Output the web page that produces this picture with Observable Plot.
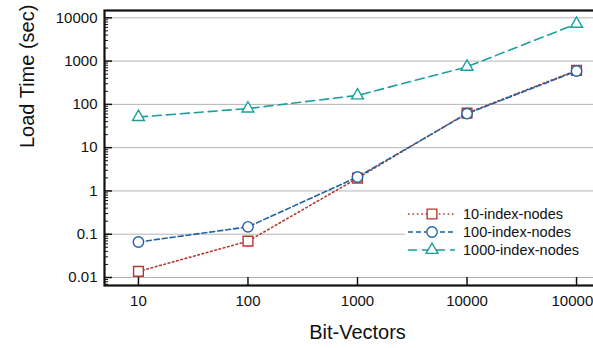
<!DOCTYPE html>
<html>
<head>
<meta charset="utf-8">
<script src="https://cdn.jsdelivr.net/npm/d3@7"></script>
<script src="https://cdn.jsdelivr.net/npm/@observablehq/plot@0.6"></script>
<style>
  html, body { margin: 0; padding: 0; background: #fff; overflow: hidden; width: 593px; height: 348px; }
  #wrap { position: relative; width: 593px; height: 348px; overflow: hidden; font-family: "Liberation Sans", Arial, Helvetica, sans-serif; }
  #wrap svg.plot { max-width: none !important; }
  #legend { position: absolute; left: 405px; top: 203px; width: 188px; height: 57px; background: #fff; }
  #legend .row { position: absolute; left: 0; height: 18px; display: flex; align-items: center; }
  #legend .row span { font-size: 14.5px; color: #111; margin-left: 5px; line-height: 18px; }
</style>
</head>
<body>
<div id="wrap"></div>
<script>
const bitVectors = [10, 100, 1000, 10000, 100000];
const seriesNames = ["10-index-nodes", "100-index-nodes", "1000-index-nodes"];
const load10 = [0.0138, 0.069, 1.97, 63, 610];
const load100 = [0.066, 0.148, 2.1, 61, 590];
const load1000 = [51, 80, 161, 738, 7250];
const yTicks = [0.01, 0.1, 1, 10, 100, 1000, 10000];
const yTickLabels = ["0.01", "0.1", "1", "10", "100", "1000", "10000"];
const xTickLabels = ["10", "100", "1000", "10000", "100000"];
const xLabel = "Bit-Vectors";
const yLabel = "Load Time (sec)";

const colors = ["#b23a2f", "#1f62a6", "#1a9f9c"];
const symbols = ["square", "circle", "triangle"];
const dashes = ["1.6,2.8", "5,3", "9,5"];
const radii = [5.5, 5.2, 4.4];

const seriesValues = [load10, load100, load1000];
const data = [];
seriesNames.forEach((s, i) => bitVectors.forEach((x, j) => data.push({series: s, x, y: seriesValues[i][j], idx: i})));

const minorTicks = [];
for (let e = -3; e <= 4; e++) for (let m = 2; m <= 9; m++) {
  const v = m * Math.pow(10, e);
  if (v >= Math.pow(10, -2.185) && v <= Math.pow(10, 4.169)) minorTicks.push(v);
}

const font = "Liberation Sans, Arial, Helvetica, sans-serif";
const marks = [
  Plot.ruleY(yTicks, {stroke: "#b4b4b4", strokeWidth: 1}),
  Plot.axisY(yTicks, {tickSize: 0, tickPadding: 7, tickFormat: (d) => yTickLabels[yTicks.indexOf(d)], fontSize: 15, fill: "#111", label: null}),
  Plot.axisY(yTicks, {tickSize: -8, text: null, label: null, stroke: "#111", strokeWidth: 1.5}),
  Plot.axisY(minorTicks, {tickSize: -4, text: null, label: null, stroke: "#111", strokeWidth: 1}),
  Plot.axisX(bitVectors, {tickSize: 0, tickPadding: 10, tickFormat: (d) => xTickLabels[bitVectors.indexOf(d)], fontSize: 15, fill: "#111", label: null}),
  Plot.axisX(bitVectors, {tickSize: -8, text: null, label: null, stroke: "#111", strokeWidth: 1.5}),
  Plot.frame({stroke: "#111", strokeWidth: 2.2}),
];
seriesNames.forEach((s, i) => {
  const d = data.filter(r => r.idx === i);
  marks.push(Plot.line(d, {x: "x", y: "y", stroke: colors[i], strokeWidth: 1.6, strokeDasharray: dashes[i]}));
});
seriesNames.forEach((s, i) => {
  const d = data.filter(r => r.idx === i);
  marks.push(Plot.dot(d, {x: "x", y: "y", stroke: colors[i], fill: "white", strokeWidth: 1.4, symbol: symbols[i], r: radii[i]}));
});
marks.push(Plot.text([yLabel], {frameAnchor: "left", dx: -77, rotate: -90, fontSize: 20, fill: "#111"}));
marks.push(Plot.text([xLabel], {frameAnchor: "bottom", dy: 53, fontSize: 20, fill: "#111"}));

const chart = Plot.plot({
  width: 620,
  height: 348,
  marginLeft: 104,
  marginRight: 10,
  marginTop: 10,
  marginBottom: 63,
  style: {fontFamily: font, background: "white", overflow: "visible", maxWidth: "none"},
  x: {type: "log", domain: [Math.pow(10, 0.69), Math.pow(10, 5.31)]},
  y: {type: "log", domain: [Math.pow(10, -2.185), Math.pow(10, 4.169)]},
  marks
});
const wrap = document.getElementById("wrap");
wrap.appendChild(chart);

// legend
const legend = document.createElement("div");
legend.id = "legend";
seriesNames.forEach((s, i) => {
  const row = document.createElement("div");
  row.className = "row";
  row.style.top = (i * 18 + 2) + "px";
  const svg = d3.create("svg").attr("width", 53).attr("height", 18);
  svg.append("line").attr("x1", 3).attr("x2", 50).attr("y1", 9).attr("y2", 9)
    .attr("stroke", colors[i]).attr("stroke-width", 1.6).attr("stroke-dasharray", dashes[i]);
  const sym = [d3.symbolSquare, d3.symbolCircle, d3.symbolTriangle][i];
  const r = radii[i];
  svg.append("path").attr("d", d3.symbol(sym, Math.PI * r * r)()).attr("transform", "translate(27,9)")
    .attr("fill", "white").attr("stroke", colors[i]).attr("stroke-width", 1.4);
  row.appendChild(svg.node());
  const t = document.createElement("span");
  t.textContent = s;
  row.appendChild(t);
  legend.appendChild(row);
});
wrap.appendChild(legend);
</script>
</body>
</html>
